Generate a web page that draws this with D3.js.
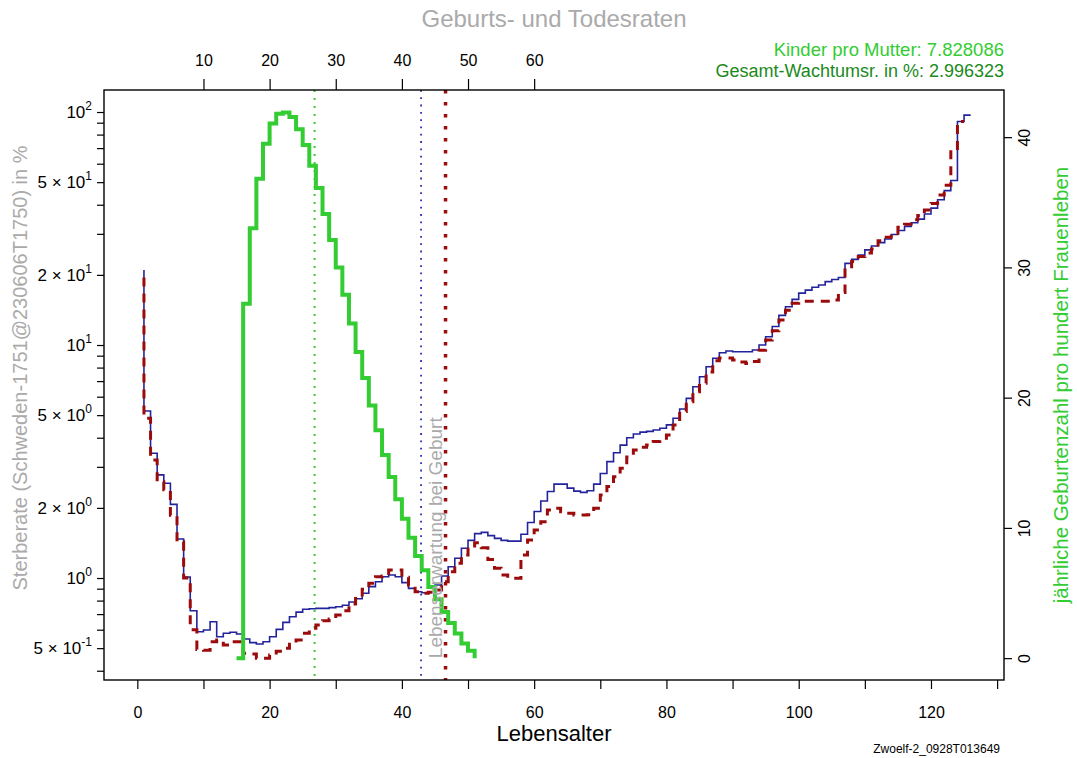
<!DOCTYPE html>
<html>
<head>
<meta charset="utf-8">
<script src="https://cdn.jsdelivr.net/npm/d3@7/dist/d3.min.js"></script>
<style>
body{margin:0;background:#fff}
text{font-family:'Liberation Sans',Arial,sans-serif}
</style>
</head>
<body>
<svg id="chart" width="1077" height="758"></svg>
<script>
// Sterberate in %, Index = Lebensjahr (Index 0 nur als Anfangswert)
var sterbeBlau = [21.0,5.21,3.43,2.77,2.55,2.07,1.47,1.01,0.724,0.588,
	0.598,0.649,0.560,0.579,0.585,0.575,0.547,0.528,0.521,0.533,
	0.560,0.602,0.645,0.682,0.714,0.734,0.738,0.741,0.741,0.746,
	0.753,0.764,0.789,0.815,0.860,0.918,0.964,1.013,1.030,1.013,
	0.955,0.903,0.873,0.865,0.873,0.933,1.020,1.118,1.215,1.341,
	1.45,1.55,1.57,1.52,1.48,1.45,1.44,1.44,1.54,1.73,
	1.93,2.14,2.35,2.53,2.53,2.43,2.36,2.33,2.37,2.53,
	2.81,3.16,3.45,3.72,4.00,4.15,4.23,4.26,4.32,4.39,
	4.54,4.85,5.31,5.90,6.62,7.31,8.07,8.77,9.27,9.43,
	9.36,9.36,9.36,9.52,10.0,10.85,12.0,13.4,14.6,15.7,
	16.7,17.2,17.7,18.1,18.7,19.1,19.5,22.4,23.3,24.3,
	25.6,26.6,27.5,28.5,29.8,31.0,32.3,33.5,34.7,36.5,
	38.7,42.0,46.0,50.8,91,97]
var sterbeRot = [19.5,4.85,3.21,2.59,2.39,1.86,1.43,1.0,0.60,0.494,
	0.49,0.533,0.542,0.516,0.533,0.533,0.475,0.472,0.452,0.452,
	0.467,0.485,0.499,0.52,0.542,0.579,0.608,0.628,0.656,0.667,
	0.694,0.724,0.774,0.832,0.894,0.949,1.013,1.02,1.082,1.082,
	1.007,0.933,0.873,0.86,0.868,0.888,0.964,1.064,1.156,1.255,
	1.35,1.418,1.35,1.2,1.1,1.03,0.997,0.997,1.255,1.455,
	1.607,1.745,1.958,1.991,1.926,1.895,1.864,1.864,1.87,1.991,
	2.27,2.47,2.72,2.96,3.31,3.54,3.64,3.72,3.85,3.91,
	4.11,4.54,5.18,5.71,6.3,6.85,7.66,8.55,8.8,8.8,
	8.63,8.45,8.33,8.5,9.5,10.5,11.5,12.8,14.1,15.1,
	15.4,15.4,15.4,15.4,15.4,15.6,16.8,21.3,22.8,24.0,
	24.8,25.8,28.0,29.0,30.2,32.0,33.0,34.5,36.0,38.0,
	40.5,44.0,48.5,68.7,91]

// jaehrliche Geburten pro 100 Frauen, ab Alter 15
var geburtenAlter = [15,16,17,18,19,20,21,22,23,24,25,26,27,28,29,30,31,32,33,
	34,35,36,37,38,39,40,41,42,43,44,45,46,47,48,49,50,51]
var geburten = [0,27.2,33.0,36.8,39.5,41.05,41.8,41.9,41.55,40.6,39.4,37.8,36.1,
	34.1,32.1,30.0,27.9,25.7,23.5,21.5,19.4,17.5,15.6,13.9,12.2,10.7,9.25,7.84,
	6.74,5.46,4.52,3.55,2.7,1.89,1.13,0.56,0]

var lebenserwartung = [42.9,46.6]
var mittleresAlterMutter = 26.8

var xTicksUnten = [0,10,20,30,40,50,60,70,80,90,100,110,120,130]
var xLabelsUnten = [0,20,40,60,80,100,120]
var xTicksOben = [10,20,30,40,50,60]
var yTicksLinks = [0.4,0.5,0.6,0.7,0.8,0.9,1,2,3,4,5,6,7,8,9,10,20,30,40,50,60,70,80,90,100]
var yLabelsLinks = [[0.5,'5 × 10','-1'],[1,'10','0'],[2,'2 × 10','0'],[5,'5 × 10','0'],
	[10,'10','1'],[20,'2 × 10','1'],[50,'5 × 10','1'],[100,'10','2']]
var yTicksRechts = [0,10,20,30,40]

var kinderProMutter = '7.828086'
var wachstum = '2.996323'

var svg = d3.select('#chart')
var L = 104, R = 1004, T = 90, B = 680

var x = d3.scaleLinear().domain([-5.04,131.04]).range([L,R])
var y = d3.scaleLog().domain([0.365,124.3]).range([B,T])
var y2 = d3.scaleLinear().domain([-1.678,43.62]).range([B,T])

var gray = '#aaaaaa'
var blau = '#23239b'
var rot = '#9c0b0b'
var gruen = '#33cc33'
var dunkelgruen = '#1b8a1b'

// Achsen
var unten = svg.append('g').attr('transform',`translate(0,${B})`)
	.call(d3.axisBottom(x).tickValues(xTicksUnten).tickSize(9)
	.tickFormat(d=>xLabelsUnten.includes(d)?d:''))
unten.select('.domain').remove()
unten.selectAll('text').attr('y',38).attr('dy',0).style('font-size','16px')

var oben = svg.append('g').attr('transform',`translate(0,${T})`)
	.call(d3.axisTop(x).tickValues(xTicksOben).tickSize(11))
oben.select('.domain').remove()
oben.selectAll('text').attr('y',-24).attr('dy',0).style('font-size','16px')

var links = svg.append('g').attr('transform',`translate(${L},0)`)
	.call(d3.axisLeft(y).tickValues(yTicksLinks).tickSize(7).tickFormat(''))
links.select('.domain').remove()

yLabelsLinks.forEach((e,i,a)=>{
	var t = svg.append('text')
		.attr('x',L-12).attr('y',y(e[0])+6)
		.attr('text-anchor','end')
		.style('font-size','17px')
	t.append('tspan').text(e[1])
	t.append('tspan').text(e[2]).attr('dy',-8).style('font-size','12px')
})

var rechts = svg.append('g').attr('transform',`translate(${R},0)`)
	.call(d3.axisRight(y2).tickValues(yTicksRechts).tickSize(8))
rechts.select('.domain').remove()
rechts.selectAll('text')
	.attr('transform','rotate(-90)')
	.attr('x',0).attr('y',26).attr('dy',0)
	.attr('text-anchor','middle')
	.style('font-size','16px')

svg.selectAll('.tick line').attr('stroke','#000').attr('stroke-width',1.2)

// Linien
var plot = svg.append('g')

plot.append('line')
	.attr('x1',x(mittleresAlterMutter)).attr('x2',x(mittleresAlterMutter))
	.attr('y1',T).attr('y2',B)
	.style('stroke',gruen).style('stroke-width',2)
	.style('stroke-dasharray','2,6')
plot.append('line')
	.attr('x1',x(lebenserwartung[0])).attr('x2',x(lebenserwartung[0]))
	.attr('y1',T).attr('y2',B)
	.style('stroke','#3030b0').style('stroke-width',1.8)
	.style('stroke-dasharray','1.8,5.5')
plot.append('line')
	.attr('x1',x(lebenserwartung[1])).attr('x2',x(lebenserwartung[1]))
	.attr('y1',T).attr('y2',B)
	.style('stroke',rot).style('stroke-width',3.5)
	.style('stroke-dasharray','3.5,8.5')

var stufe = d3.line()
	.x(d=>x(d[0]))
	.y(d=>y(d[1]))
	.curve(d3.curveStepBefore)

plot.append('path').datum(sterbeBlau.map((v,i)=>[i+1,v]))
	.attr('d',stufe)
	.style('fill','none').style('stroke',blau).style('stroke-width',1.6)

plot.append('path').datum(sterbeRot.map((v,i)=>[i+1,v]))
	.attr('d',stufe)
	.style('fill','none').style('stroke',rot).style('stroke-width',3)
	.style('stroke-dasharray','9,7')

plot.append('path').datum(geburten.map((v,i)=>[geburtenAlter[i],v]))
	.attr('d',d3.line().x(d=>x(d[0])).y(d=>y2(d[1])).curve(d3.curveStepAfter))
	.style('fill','none').style('stroke',gruen).style('stroke-width',4)
	.style('stroke-linejoin','miter')

svg.append('text').text('Lebenserwartung bei Geburt')
	.attr('transform',`translate(442,${y2(0)}) rotate(-90)`)
	.style('fill',gray).style('font-size','19px')

svg.append('rect')
	.attr('x',L).attr('y',T).attr('width',R-L).attr('height',B-T)
	.style('fill','none').style('stroke','#000').style('stroke-width',1.4)

// Texte
svg.append('text').text('Geburts- und Todesraten')
	.attr('x',(L+R)/2).attr('y',27).attr('text-anchor','middle')
	.style('fill',gray).style('font-size','24px')

svg.append('text').text(`Kinder pro Mutter: ${kinderProMutter}`)
	.attr('x',R).attr('y',56).attr('text-anchor','end')
	.style('fill',gruen).style('font-size','18.5px')
svg.append('text').text(`Gesamt-Wachtumsr. in %: ${wachstum}`)
	.attr('x',R).attr('y',77).attr('text-anchor','end')
	.style('fill',dunkelgruen).style('font-size','18px')

svg.append('text').text('Lebensalter')
	.attr('x',(L+R)/2).attr('y',741).attr('text-anchor','middle')
	.style('font-size','22px')

svg.append('text').text('Zwoelf-2_0928T013649')
	.attr('x',1000).attr('y',753).attr('text-anchor','end')
	.style('font-size','12px')

svg.append('text').text('Sterberate (Schweden-1751@230606T1750) in %')
	.attr('transform','translate(27,368) rotate(-90)')
	.attr('text-anchor','middle')
	.style('fill',gray).style('font-size','20px')

svg.append('text').text('jährliche Geburtenzahl pro hundert Frauenleben')
	.attr('transform',`translate(1068,${(T+B)/2}) rotate(-90)`)
	.attr('text-anchor','middle')
	.style('fill',gruen).style('font-size','20.5px')
</script>
</body>
</html>
